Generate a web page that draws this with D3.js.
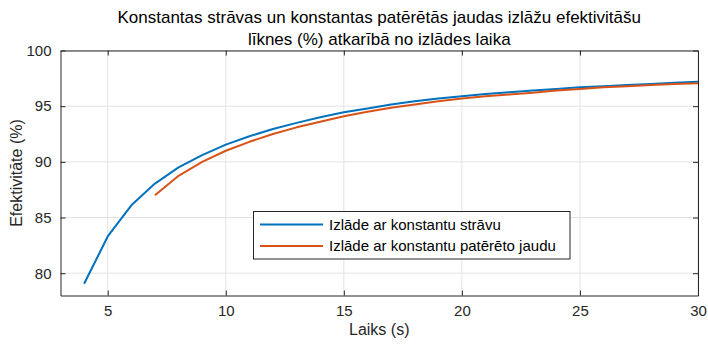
<!DOCTYPE html>
<html>
<head>
<meta charset="utf-8">
<script src="https://cdn.jsdelivr.net/npm/d3@7"></script>
<style>
  body { margin: 0; background: #fff; }
  svg { display: block; font-family: "Liberation Sans", Arial, Helvetica, sans-serif; }
</style>
</head>
<body>
<svg id="chart" width="708" height="345"></svg>
<script>
// Discharge time (s)
const timeCurrent = [4, 5, 6, 7, 8, 9, 10, 11, 12, 13, 14, 15, 16, 17, 18, 19, 20, 21, 22, 23, 24, 25, 26, 27, 28, 29, 30];
const effCurrent  = [79.05, 83.3, 86.1, 88.05, 89.5, 90.6, 91.55, 92.3, 92.95, 93.5, 94.0, 94.45, 94.8, 95.15, 95.45, 95.7, 95.9, 96.1, 96.25, 96.4, 96.55, 96.7, 96.8, 96.9, 97.0, 97.1, 97.2];
const timePower = [7, 8, 9, 10, 11, 12, 13, 14, 15, 16, 17, 18, 19, 20, 21, 22, 23, 24, 25, 26, 27, 28, 29, 30];
const effPower  = [87.0, 88.75, 90.0, 91.0, 91.8, 92.5, 93.1, 93.6, 94.1, 94.5, 94.85, 95.15, 95.45, 95.7, 95.9, 96.05, 96.2, 96.4, 96.55, 96.7, 96.8, 96.9, 97.0, 97.07];

const xTicks = [5, 10, 15, 20, 25, 30];
const yTicks = [80, 85, 90, 95, 100];
const seriesNames = ["Izlāde ar konstantu strāvu", "Izlāde ar konstantu patērēto jaudu"];
const seriesColors = ["#0072BD", "#D95319"];
const titleLines = ["Konstantas strāvas un konstantas patērētās jaudas izlāžu efektivitāšu", "līknes (%) atkarībā no izlādes laika"];

const svg = d3.select("#chart");
const m = { left: 60.5, top: 50.5, right: 698, bottom: 295.5 };
const cx = (m.left + m.right) / 2;
const x = d3.scaleLinear().domain([3, 30]).range([m.left, m.right]);
const y = d3.scaleLinear().domain([78, 100]).range([m.bottom, m.top]);
const ink = "#262626";

// grid
const grid = svg.append("g");
grid.selectAll("line.gx").data(xTicks).join("line")
  .attr("x1", d => x(d)).attr("x2", d => x(d)).attr("y1", m.top).attr("y2", m.bottom)
  .attr("stroke", "#e3e3e3").attr("stroke-width", 1);
grid.selectAll("line.gy").data(yTicks).join("line")
  .attr("y1", d => y(d)).attr("y2", d => y(d)).attr("x1", m.left).attr("x2", m.right)
  .attr("stroke", "#e3e3e3").attr("stroke-width", 1);

// series lines
const line = d3.line().x(d => x(d[0])).y(d => y(d[1]));
const series = [d3.zip(timeCurrent, effCurrent), d3.zip(timePower, effPower)];
svg.selectAll("path.series").data(series).join("path")
  .attr("class", "series")
  .attr("d", line)
  .attr("fill", "none")
  .attr("stroke", (d, i) => seriesColors[i])
  .attr("stroke-width", 2)
  .attr("stroke-linejoin", "round");

// axes (ticks inward, box on all sides)
const tl = 5;
const fmt = d3.format("d");
svg.append("g").attr("transform", `translate(0,${m.bottom})`)
  .call(d3.axisBottom(x).tickValues(xTicks).tickFormat(fmt).tickSizeInner(-tl).tickSizeOuter(0).tickPadding(10));
svg.append("g").attr("transform", `translate(0,${m.top})`)
  .call(d3.axisTop(x).tickValues(xTicks).tickFormat("").tickSizeInner(-tl).tickSizeOuter(0));
svg.append("g").attr("transform", `translate(${m.left},0)`)
  .call(d3.axisLeft(y).tickValues(yTicks).tickFormat(fmt).tickSizeInner(-tl).tickSizeOuter(0).tickPadding(9));
svg.append("g").attr("transform", `translate(${m.right},0)`)
  .call(d3.axisRight(y).tickValues(yTicks).tickFormat("").tickSizeInner(-tl).tickSizeOuter(0));
svg.selectAll(".domain").attr("stroke", ink).attr("stroke-width", 1);
svg.selectAll(".tick line").attr("stroke", ink).attr("stroke-width", 1);
svg.selectAll(".tick text").attr("fill", ink).attr("font-size", 15).attr("font-family", "Liberation Sans, Arial, sans-serif");

// title
svg.append("text").attr("text-anchor", "middle")
  .attr("fill", "#000").attr("font-size", 17)
  .selectAll("tspan").data(titleLines).join("tspan")
  .attr("x", cx).attr("y", (d, i) => 23 + i * 22).text(d => d);

// axis labels
svg.append("text").attr("x", cx).attr("y", 335).attr("text-anchor", "middle")
  .attr("fill", ink).attr("font-size", 16).text("Laiks (s)");
svg.append("text").attr("transform", `translate(22,${(m.top + m.bottom) / 2}) rotate(-90)`)
  .attr("text-anchor", "middle").attr("fill", ink).attr("font-size", 16).text("Efektivitāte (%)");

// legend
const lg = svg.append("g");
lg.append("rect").attr("x", 253.5).attr("y", 211.5).attr("width", 316.5).attr("height", 47.5)
  .attr("fill", "#fff").attr("stroke", ink).attr("stroke-width", 1);
const rows = lg.selectAll("g.row").data(seriesNames).join("g")
  .attr("transform", (d, i) => `translate(0,${224.5 + i * 21.5})`);
rows.append("line").attr("x1", 260).attr("x2", 323).attr("y1", 0).attr("y2", 0)
  .attr("stroke", (d, i) => seriesColors[i]).attr("stroke-width", 2);
rows.append("text").attr("x", 329).attr("y", 0).attr("dy", "0.35em")
  .attr("fill", "#000").attr("font-size", 15).text(d => d);
</script>
</body>
</html>
